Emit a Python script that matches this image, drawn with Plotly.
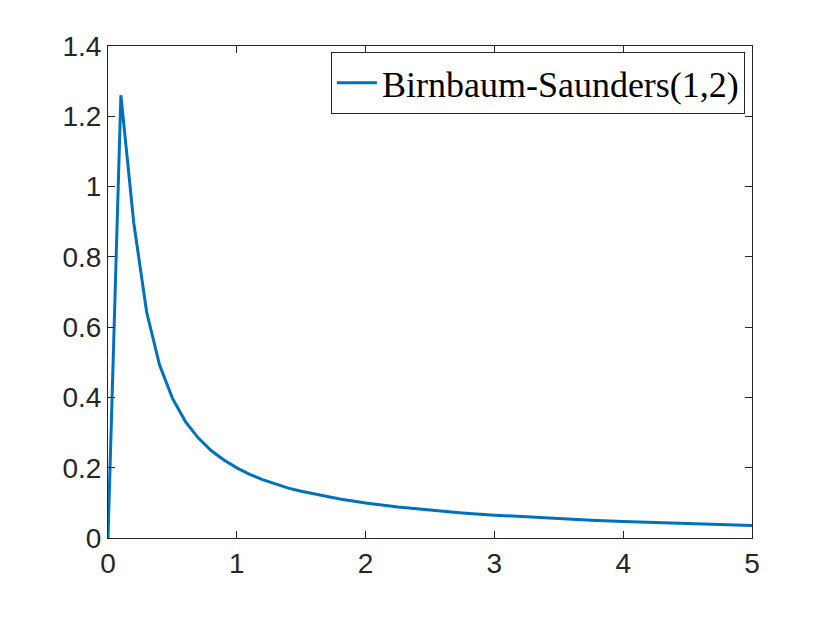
import plotly.graph_objects as go

# Birnbaum-Saunders(1,2) pdf
x_vals = [0.0, 0.1, 0.2, 0.3, 0.4, 0.5, 0.6, 0.7, 0.8, 0.9, 1.0,
          1.1, 1.2, 1.3, 1.4, 1.5, 1.6, 1.7, 1.8, 1.9, 2.0,
          2.25, 2.5, 2.75, 3.0, 3.25, 3.5, 3.75, 4.0, 4.25, 4.5, 4.75, 5.0]
pdf_vals = [0.0, 1.260, 0.897, 0.643, 0.493, 0.398, 0.332, 0.285, 0.249, 0.222, 0.1995,
            0.181, 0.166, 0.153, 0.142, 0.133, 0.125, 0.117, 0.111, 0.105, 0.0994,
            0.0881, 0.0789, 0.0714, 0.0650, 0.0596, 0.0548, 0.0507, 0.0471, 0.0438, 0.0409, 0.0383, 0.0359]
series_name = "Birnbaum-Saunders(1,2)"
x_ticks = [0, 1, 2, 3, 4, 5]
y_ticks = [0, 0.2, 0.4, 0.6, 0.8, 1, 1.2, 1.4]
y_tick_labels = ["0", "0.2", "0.4", "0.6", "0.8", "1", "1.2", "1.4"]

axis_color = "#262626"

fig = go.Figure()
fig.add_trace(go.Scatter(x=x_vals, y=pdf_vals, mode="lines", name=series_name,
                         line=dict(color="#0072BD", width=3)))

axis_common = dict(showgrid=False, zeroline=False, showline=True, linecolor=axis_color,
                   linewidth=1, mirror="ticks", ticks="inside", ticklen=7, tickwidth=1,
                   tickcolor=axis_color,
                   tickfont=dict(family="Liberation Sans, Arial, sans-serif", size=28, color=axis_color))

fig.update_xaxes(range=[0, 5], tickvals=x_ticks, ticktext=[str(t) for t in x_ticks], **axis_common)
fig.update_yaxes(range=[0, 1.4], tickvals=y_ticks, ticktext=y_tick_labels, **axis_common)

fig.update_layout(
    width=830, height=623,
    margin=dict(l=100, r=86, t=38, b=93),
    plot_bgcolor="white", paper_bgcolor="white",
    showlegend=True,
    legend=dict(x=0.989, y=0.988, xanchor="right", yanchor="top",
                bgcolor="white", bordercolor=axis_color, borderwidth=1,
                font=dict(family="Liberation Serif, Times New Roman, serif", size=36, color="black"),
                itemwidth=40, tracegroupgap=0),
)

fig.write_html("out.html")
